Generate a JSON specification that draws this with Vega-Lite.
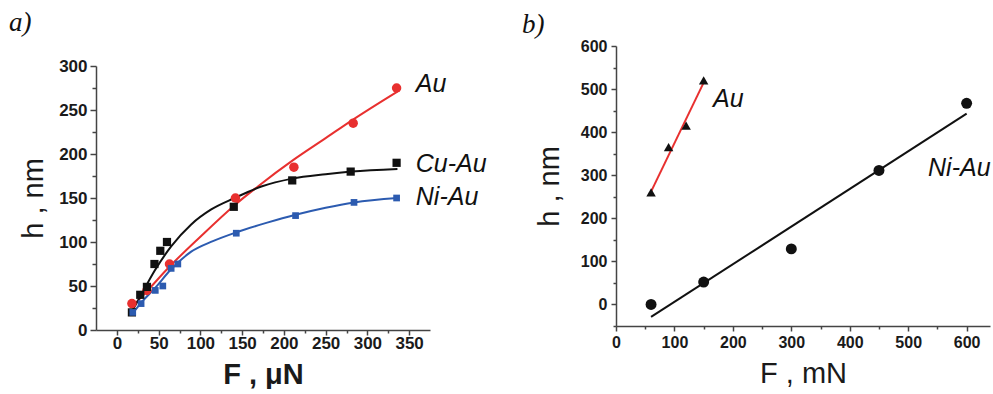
{
  "$schema": "https://vega.github.io/schema/vega-lite/v6.json",
  "padding": {"left": 9, "top": 9, "right": 0, "bottom": 0},
  "background": "white",
  "config": {
    "view": {"stroke": null},
    "axis": {
      "grid": false,
      "domainColor": "#444",
      "domainWidth": 1.5,
      "tickColor": "#444",
      "tickWidth": 1.5,
      "labelFont": "Liberation Sans",
      "labelFontWeight": "bold",
      "labelColor": "#1a1a1a",
      "labelOverlap": false,
      "labelFlush": false,
      "titleFont": "Liberation Sans",
      "titleColor": "#1a1a1a",
      "titleFontWeight": "normal"
    }
  },
  "datasets": {
    "leftPts": [
      {"series": "Au", "F": 18, "h": 30}, {"series": "Au", "F": 36, "h": 45}, {"series": "Au", "F": 63, "h": 75},
      {"series": "Au", "F": 142, "h": 150}, {"series": "Au", "F": 212, "h": 185}, {"series": "Au", "F": 283, "h": 235},
      {"series": "Au", "F": 335, "h": 275},
      {"series": "Cu-Au", "F": 18, "h": 20}, {"series": "Cu-Au", "F": 28, "h": 40}, {"series": "Cu-Au", "F": 36, "h": 49},
      {"series": "Cu-Au", "F": 45, "h": 75}, {"series": "Cu-Au", "F": 52, "h": 90}, {"series": "Cu-Au", "F": 60, "h": 100},
      {"series": "Cu-Au", "F": 140, "h": 140}, {"series": "Cu-Au", "F": 210, "h": 170}, {"series": "Cu-Au", "F": 280, "h": 180},
      {"series": "Cu-Au", "F": 335, "h": 190},
      {"series": "Ni-Au", "F": 19, "h": 20}, {"series": "Ni-Au", "F": 29, "h": 30}, {"series": "Ni-Au", "F": 46, "h": 45},
      {"series": "Ni-Au", "F": 55, "h": 50}, {"series": "Ni-Au", "F": 65, "h": 70}, {"series": "Ni-Au", "F": 73, "h": 75},
      {"series": "Ni-Au", "F": 143, "h": 110}, {"series": "Ni-Au", "F": 214, "h": 130}, {"series": "Ni-Au", "F": 284, "h": 145},
      {"series": "Ni-Au", "F": 335, "h": 150}
    ],
    "leftFit": [
      {"series": "Au", "F": 18, "h": 26}, {"series": "Au", "F": 35, "h": 43}, {"series": "Au", "F": 62, "h": 71},
      {"series": "Au", "F": 100, "h": 106}, {"series": "Au", "F": 140, "h": 141}, {"series": "Au", "F": 170, "h": 164},
      {"series": "Au", "F": 211, "h": 193}, {"series": "Au", "F": 250, "h": 218}, {"series": "Au", "F": 281, "h": 238},
      {"series": "Au", "F": 336, "h": 271},
      {"series": "Cu-Au", "F": 18, "h": 21}, {"series": "Cu-Au", "F": 28, "h": 38}, {"series": "Cu-Au", "F": 45, "h": 67},
      {"series": "Cu-Au", "F": 65, "h": 95}, {"series": "Cu-Au", "F": 89, "h": 120}, {"series": "Cu-Au", "F": 113, "h": 137},
      {"series": "Cu-Au", "F": 141, "h": 150}, {"series": "Cu-Au", "F": 173, "h": 163}, {"series": "Cu-Au", "F": 210, "h": 172},
      {"series": "Cu-Au", "F": 250, "h": 177}, {"series": "Cu-Au", "F": 281, "h": 180}, {"series": "Cu-Au", "F": 336, "h": 183},
      {"series": "Ni-Au", "F": 19, "h": 19}, {"series": "Ni-Au", "F": 30, "h": 32}, {"series": "Ni-Au", "F": 45, "h": 47},
      {"series": "Ni-Au", "F": 65, "h": 69}, {"series": "Ni-Au", "F": 89, "h": 89}, {"series": "Ni-Au", "F": 115, "h": 101},
      {"series": "Ni-Au", "F": 143, "h": 111}, {"series": "Ni-Au", "F": 180, "h": 122}, {"series": "Ni-Au", "F": 214, "h": 131},
      {"series": "Ni-Au", "F": 250, "h": 139}, {"series": "Ni-Au", "F": 284, "h": 145}, {"series": "Ni-Au", "F": 336, "h": 150}
    ],
    "leftLbl": [
      {"label": "Au", "F": 358, "h": 279},
      {"label": "Cu-Au", "F": 358, "h": 189},
      {"label": "Ni-Au", "F": 358, "h": 151}
    ],
    "rightPts": [
      {"series": "Au", "F": 60, "h": 260}, {"series": "Au", "F": 90, "h": 365}, {"series": "Au", "F": 120, "h": 415},
      {"series": "Au", "F": 150, "h": 520},
      {"series": "Ni-Au", "F": 60, "h": 0}, {"series": "Ni-Au", "F": 150, "h": 52}, {"series": "Ni-Au", "F": 300, "h": 129},
      {"series": "Ni-Au", "F": 450, "h": 311}, {"series": "Ni-Au", "F": 600, "h": 467}
    ],
    "rightFit": [
      {"series": "Au", "F": 60, "h": 262}, {"series": "Au", "F": 150, "h": 515},
      {"series": "Ni-Au", "F": 60, "h": -29}, {"series": "Ni-Au", "F": 600, "h": 443}
    ],
    "rightLbl": [
      {"label": "Au", "F": 166, "h": 478},
      {"label": "Ni-Au", "F": 534, "h": 316}
    ]
  },
  "spacing": 35,
  "resolve": {"scale": {"color": "independent", "shape": "independent", "size": "independent"}},
  "hconcat": [
    {
      "title": {"text": "a)", "font": "Liberation Serif", "fontStyle": "italic", "fontWeight": "normal", "fontSize": 27, "anchor": "start", "frame": "group", "dx": -87, "offset": 9, "color": "#111"},
      "width": 334,
      "height": 284,
      "encoding": {
        "x": {
          "field": "F", "type": "quantitative",
          "scale": {"domain": [-25, 375], "nice": false, "zero": false},
          "axis": {
            "title": "F , μN", "titleFontWeight": "bold", "titleFontSize": 29, "titlePadding": 9,
            "values": [0, 25, 50, 75, 100, 125, 150, 175, 200, 225, 250, 275, 300, 325, 350],
            "labelExpr": "datum.value % 50 === 0 ? datum.label : ''",
            "tickSize": {"condition": {"test": "datum.value % 50 === 0", "value": 5}, "value": 3},
            "labelFontSize": 17, "labelPadding": 0
          }
        },
        "y": {
          "field": "h", "type": "quantitative",
          "scale": {"domain": [0, 300], "range": [284, 20], "nice": false, "zero": false},
          "axis": {
            "title": "h , nm", "titleFontSize": 29, "titlePadding": 10,
            "values": [0, 25, 50, 75, 100, 125, 150, 175, 200, 225, 250, 275, 300],
            "labelExpr": "datum.value % 50 === 0 ? datum.label : ''",
            "tickSize": {"condition": {"test": "datum.value % 50 === 0", "value": 6}, "value": 4},
            "labelFontSize": 17, "labelPadding": 3
          }
        }
      },
      "layer": [
        {
          "data": {"name": "leftFit"},
          "mark": {"type": "line", "interpolate": "monotone", "strokeWidth": 2},
          "encoding": {
            "color": {"field": "series", "type": "nominal", "scale": {"domain": ["Au", "Cu-Au", "Ni-Au"], "range": ["#e8302f", "#111111", "#2c5bb0"]}, "legend": null}
          }
        },
        {
          "data": {"name": "leftPts"},
          "mark": {"type": "point", "filled": true, "opacity": 1},
          "encoding": {
            "color": {"field": "series", "type": "nominal", "scale": {"domain": ["Au", "Cu-Au", "Ni-Au"], "range": ["#e8302f", "#111111", "#2c5bb0"]}, "legend": null},
            "shape": {"field": "series", "type": "nominal", "scale": {"domain": ["Au", "Cu-Au", "Ni-Au"], "range": ["circle", "square", "square"]}, "legend": null},
            "size": {"field": "series", "type": "ordinal", "scale": {"domain": ["Au", "Cu-Au", "Ni-Au"], "range": [90, 45, 45]}, "legend": null}
          }
        },
        {
          "data": {"name": "leftLbl"},
          "mark": {"type": "text", "align": "left", "baseline": "middle", "font": "Liberation Sans", "fontStyle": "italic", "fontSize": 25, "color": "#111"},
          "encoding": {"text": {"field": "label", "type": "nominal"}}
        }
      ]
    },
    {
      "title": {"text": "b)", "font": "Liberation Serif", "fontStyle": "italic", "fontWeight": "normal", "fontSize": 27, "anchor": "start", "frame": "group", "dx": -94, "offset": -1, "color": "#111"},
      "width": 374,
      "height": 280,
      "encoding": {
        "x": {
          "field": "F", "type": "quantitative",
          "scale": {"domain": [0, 640], "nice": false, "zero": false},
          "axis": {
            "title": "F , mN", "titleFontSize": 29, "titlePadding": 9,
            "values": [0, 50, 100, 150, 200, 250, 300, 350, 400, 450, 500, 550, 600],
            "labelExpr": "datum.value % 100 === 0 ? datum.label : ''",
            "tickSize": {"condition": {"test": "datum.value % 100 === 0", "value": 5}, "value": 3},
            "labelFontSize": 16, "labelPadding": 3
          }
        },
        "y": {
          "field": "h", "type": "quantitative",
          "scale": {"domain": [-50, 600], "nice": false, "zero": false},
          "axis": {
            "title": "h , nm", "titleFontSize": 29, "titlePadding": 16,
            "values": [-50, 0, 50, 100, 150, 200, 250, 300, 350, 400, 450, 500, 550, 600],
            "labelExpr": "datum.value % 100 === 0 ? datum.label : ''",
            "tickSize": {"condition": {"test": "datum.value % 100 === 0", "value": 5}, "value": 3},
            "labelFontSize": 16, "labelPadding": 4
          }
        }
      },
      "layer": [
        {
          "data": {"name": "rightFit"},
          "mark": {"type": "line", "strokeWidth": 2},
          "encoding": {
            "color": {"field": "series", "type": "nominal", "scale": {"domain": ["Au", "Ni-Au"], "range": ["#e8302f", "#111111"]}, "legend": null}
          }
        },
        {
          "data": {"name": "rightPts"},
          "mark": {"type": "point", "filled": true, "opacity": 1, "color": "#111"},
          "encoding": {
            "shape": {"field": "series", "type": "nominal", "scale": {"domain": ["Au", "Ni-Au"], "range": ["triangle-up", "circle"]}, "legend": null},
            "size": {"field": "series", "type": "ordinal", "scale": {"domain": ["Au", "Ni-Au"], "range": [90, 120]}, "legend": null}
          }
        },
        {
          "data": {"name": "rightLbl"},
          "mark": {"type": "text", "align": "left", "baseline": "middle", "font": "Liberation Sans", "fontStyle": "italic", "fontSize": 25, "color": "#111"},
          "encoding": {"text": {"field": "label", "type": "nominal"}}
        }
      ]
    }
  ]
}
